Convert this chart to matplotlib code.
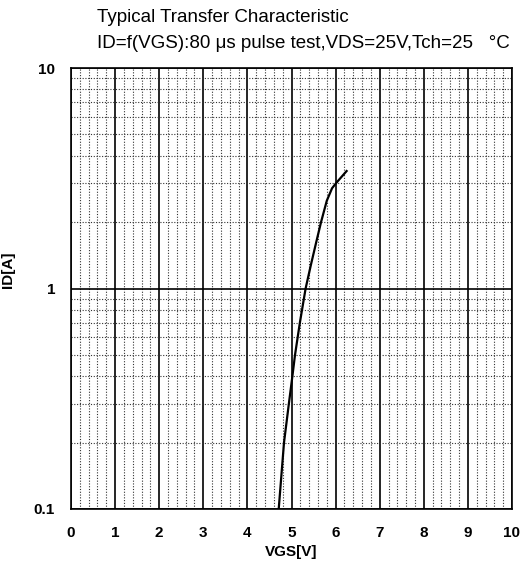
import matplotlib
matplotlib.use("Agg")
import matplotlib.pyplot as plt
from matplotlib.ticker import FixedLocator, LogLocator, NullFormatter, FixedFormatter

plt.rcParams['font.family'] = ['Liberation Sans', 'DejaVu Sans']

title_line1 = "Typical Transfer Characteristic"
title_line2 = "ID=f(VGS):80 \u03bcs pulse test,VDS=25V,Tch=25   \u00b0C"
x_label = "VGS[V]"
y_label = "ID[A]"

vgs = [4.71, 4.83, 4.94, 5.02, 5.08, 5.19, 5.32, 5.44, 5.56, 5.67, 5.80, 5.92, 6.02, 6.25]
id_a = [0.1, 0.2, 0.3, 0.4, 0.5, 0.7, 1.0, 1.28, 1.62, 2.0, 2.5, 2.85, 3.02, 3.41]

x_ticks = [0, 1, 2, 3, 4, 5, 6, 7, 8, 9, 10]
y_ticks = [0.1, 1, 10]
y_tick_labels = ["0.1", "1", "10"]

fig = plt.figure(figsize=(5.25, 5.66), dpi=100)
ax = fig.add_axes([71/525, 1-509/566, (512-71)/525, (509-68)/566])

ax.plot(vgs, id_a, color='black', lw=1.6, zorder=5)

ax.set_xlim(0, 10)
ax.set_yscale('log')
ax.set_ylim(0.1, 10)

ax.xaxis.set_major_locator(FixedLocator(x_ticks))
ax.xaxis.set_minor_locator(FixedLocator([i*0.2 for i in range(51) if i % 5 != 0]))
ax.yaxis.set_major_locator(FixedLocator(y_ticks))
ax.yaxis.set_major_formatter(FixedFormatter(y_tick_labels))
ax.yaxis.set_minor_locator(LogLocator(base=10, subs=[2, 3, 4, 5, 6, 7, 8, 9]))
ax.yaxis.set_minor_formatter(NullFormatter())

ax.grid(which='major', color='black', lw=1.2, ls='-')
ax.grid(which='minor', color='#333333', lw=0.8, ls=(0, (1, 1.5)))
ax.set_axisbelow(True)

ax.tick_params(which='both', length=0)
ax.tick_params(axis='x', pad=12, labelsize=11)
ax.tick_params(axis='y', pad=11.5, labelsize=11)
for lbl in ax.get_xticklabels() + ax.get_yticklabels():
    lbl.set_fontweight('bold')

for sp in ax.spines.values():
    sp.set_color('black')
    sp.set_linewidth(1.2)

ax.set_xlabel(x_label, fontsize=11, fontweight='bold', labelpad=4)
ax.set_ylabel(y_label, fontsize=11, fontweight='bold')
ax.yaxis.set_label_coords((15-71)/441, (509-270)/441)

fig.text(97/525, 1-18/566, title_line1, fontsize=13.5, ha='left', va='center')
fig.text(97/525, 1-44/566, title_line2, fontsize=13.5, ha='left', va='center')

fig.savefig("out.png", dpi=100)
